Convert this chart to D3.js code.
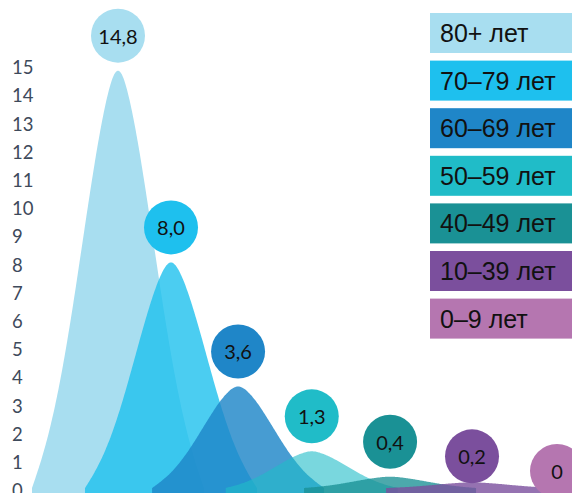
<!DOCTYPE html>
<html>
<head>
<meta charset="utf-8">
<script src="https://cdn.jsdelivr.net/npm/d3@7"></script>
<style>
  body { margin: 0; background: #fff; }
</style>
</head>
<body>
<div id="chart"></div>
<script>
const groups = ["80+ лет", "70–79 лет", "60–69 лет", "50–59 лет", "40–49 лет", "10–39 лет", "0–9 лет"];
const values = [14.8, 8.0, 3.6, 1.3, 0.4, 0.2, 0];
const valueLabels = ["14,8", "8,0", "3,6", "1,3", "0,4", "0,2", "0"];
const yTicks = [0, 1, 2, 3, 4, 5, 6, 7, 8, 9, 10, 11, 12, 13, 14, 15];

const colors = ["#a8def0", "#1ec0ee", "#1f86c8", "#20bcc8", "#1a9195", "#7b4f9d", "#b576b0"];
const shapeOpacity = [1, 0.8, 0.82, 0.6, 0.78, 0.8, 0.8];

const width = 572, height = 493;

const svg = d3.select("#chart")
    .append("svg")
    .attr("width", width)
    .attr("height", height);

// peaks are spread a bit wider to the right
const x = d3.scalePow()
    .exponent(1.18)
    .domain([0, groups.length - 1])
    .range([118, 557]);

const y = d3.scaleLinear()
    .domain([0, 15])
    .range([488, 65]);

// y labels, no axis line
svg.append("g")
    .selectAll("text")
    .data(yTicks)
    .enter()
    .append("text")
    .attr("x", 12)
    .attr("y", d => y(d))
    .attr("dy", "0.5em")
    .style("font-family", "Lato, 'Open Sans', sans-serif")
    .style("font-size", "18.5px")
    .style("fill", "#3e4a5b")
    .text(d => d);

// peak shape: half rounded triangle, half bell
const halfBase = 86;
const tip = 0.09;
const s = t => Math.sqrt(t * t + tip * tip);
const tri = t => (s(1) - s(t)) / (s(1) - s(0));
const bell = t => Math.pow((1 + Math.cos(Math.PI * t)) / 2, 1.4);
const peakShape = t => 0.55 * tri(t) + 0.45 * bell(t);
const steps = d3.range(-1, 1.0001, 0.01);

const area = d3.area()
    .x(d => d.x)
    .y0(height + 2)
    .y1(d => y(d.v))
    .curve(d3.curveBasis);

const shapes = groups.map((g, i) => steps.map(t => ({
    x: x(i) + t * halfBase,
    v: values[i] * peakShape(t)
})));

svg.append("g")
    .selectAll("path")
    .data(shapes)
    .enter()
    .append("path")
    .attr("d", area)
    .attr("fill", (d, i) => colors[i])
    .attr("fill-opacity", (d, i) => values[i] > 0 ? shapeOpacity[i] : 0);

// value bubbles
const bubbleOffset = v => 17 + 18 * Math.min(v / 0.4, 1);

const bubbles = svg.append("g")
    .selectAll("g")
    .data(values)
    .enter()
    .append("g")
    .attr("transform", (d, i) => `translate(${x(i)},${y(d) - bubbleOffset(d)})`);

bubbles.append("circle")
    .attr("r", 27)
    .attr("fill", (d, i) => colors[i]);

bubbles.append("text")
    .attr("text-anchor", "middle")
    .attr("dy", "0.4em")
    .style("font-family", "Lato, 'Open Sans', sans-serif")
    .style("font-size", "20px")
    .style("fill", "#111")
    .text((d, i) => valueLabels[i]);

// legend
const legend = svg.append("g")
    .selectAll("g")
    .data(groups)
    .enter()
    .append("g")
    .attr("transform", (d, i) => `translate(430,${13 + i * 47.6})`);

legend.append("rect")
    .attr("width", 150)
    .attr("height", 40)
    .attr("fill", (d, i) => colors[i]);

legend.append("text")
    .attr("x", 10)
    .attr("y", 29)
    .style("font-family", "'Liberation Sans', Arial, sans-serif")
    .style("font-size", "25px")
    .style("fill", "#111")
    .text(d => d);
</script>
</body>
</html>
